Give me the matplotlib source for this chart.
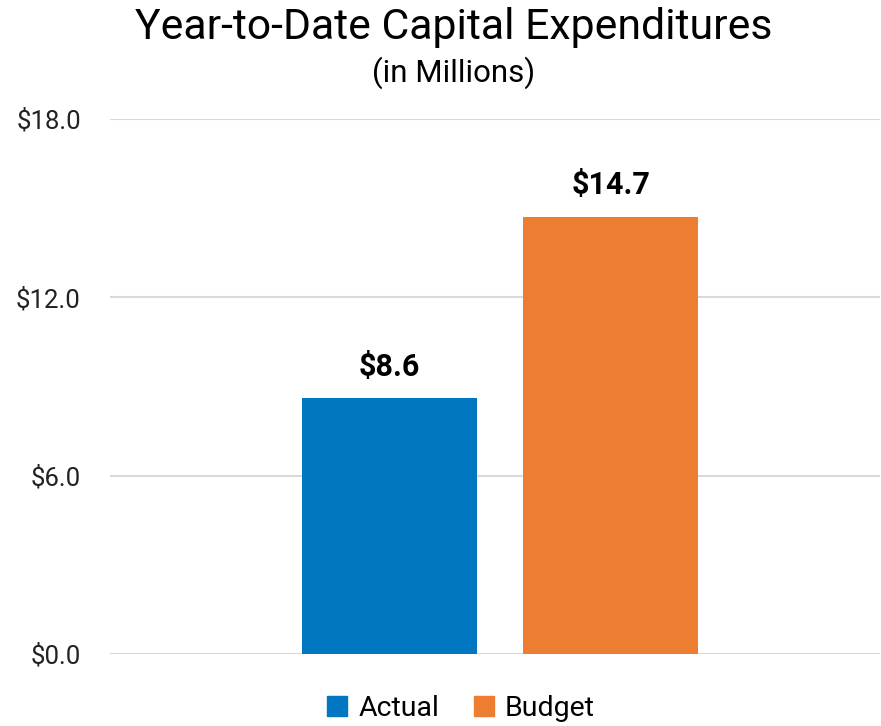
import matplotlib.pyplot as plt
from matplotlib.patches import Patch

plt.rcParams['font.family'] = ['Roboto', 'DejaVu Sans']

series = ['Actual', 'Budget']
values = [8.6, 14.7]
colors = ['#0077C0', '#ED7D31']
yticks = [0, 6, 12, 18]

fig = plt.figure(figsize=(8.81, 7.26), dpi=100, facecolor='w')
ax = fig.add_axes([0.1249, 0.0992, 0.874, 0.737])

x = [0, 1]
bars = ax.bar(x, values, width=0.792, color=colors, zorder=3)
for b, v in zip(bars, values):
    ax.annotate('$%.1f' % v, (b.get_x() + b.get_width() / 2, v),
                xytext=(0, 12), textcoords='offset points',
                ha='center', va='bottom', fontsize=22, fontweight='bold')

ax.set_xlim(-1.265, 2.219)
ax.set_ylim(0, 18)
ax.set_yticks(yticks)
ax.set_yticklabels(['$%.1f' % t for t in yticks], fontsize=18.5, color='#222222')
ax.set_xticks([])
ax.grid(axis='y', color='#d9d9d9', linewidth=1.5, zorder=0)
for s in ax.spines.values():
    s.set_visible(False)
ax.tick_params(axis='y', length=0, pad=21)

fig.text(454 / 881, 1 - 27 / 726, 'Year-to-Date Capital Expenditures',
         ha='center', va='center', fontsize=30.8)
fig.text(454 / 881, 1 - 73 / 726, '(in Millions)',
         ha='center', va='center', fontsize=22.5)

handles = [Patch(color=c, label=s) for c, s in zip(colors, series)]
fig.legend(handles=handles, loc='center', bbox_to_anchor=(461 / 881, 1 - 708 / 726),
           ncol=2, frameon=False, fontsize=20.5, handlelength=0.7, handleheight=0.7,
           handletextpad=0.4, columnspacing=1.2)

plt.savefig('out.png', dpi=100)
